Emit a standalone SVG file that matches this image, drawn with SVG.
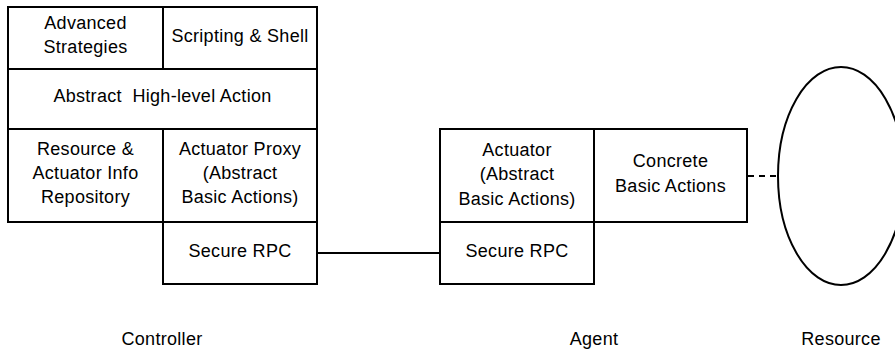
<svg xmlns="http://www.w3.org/2000/svg" width="895" height="352" viewBox="0 0 895 352">
<style>
.box{fill:#fff;stroke:#000;stroke-width:2}
text{font-family:"Liberation Sans",Arial,sans-serif;font-size:18px;letter-spacing:0.3px;fill:#000;text-anchor:middle;white-space:pre}
.conn{stroke:#000;stroke-width:2;fill:none}
</style>
<rect width="895" height="352" fill="#fff"/>
<g id="controller">
<g id="advanced"><rect class="box" x="8" y="7" width="155" height="62"/><text x="85.5" y="29">Advanced</text><text x="85.5" y="53">Strategies</text></g>
<g id="scripting"><rect class="box" x="163" y="7" width="154" height="62"/><text x="240" y="42">Scripting &amp; Shell</text></g>
<g id="abstract"><rect class="box" x="8" y="69" width="309" height="60"/><text x="162.5" y="102" xml:space="preserve">Abstract  High-level Action</text></g>
<g id="repository"><rect class="box" x="8" y="129" width="155" height="93"/><text x="85.5" y="155">Resource &amp;</text><text x="85.5" y="179">Actuator Info</text><text x="85.5" y="203">Repository</text></g>
<g id="proxy"><rect class="box" x="163" y="129" width="154" height="93"/><text x="240" y="155">Actuator Proxy</text><text x="240" y="179">(Abstract</text><text x="240" y="203">Basic Actions)</text></g>
<g id="rpc1"><rect class="box" x="163" y="222" width="154" height="62"/><text x="240" y="257">Secure RPC</text></g>
</g>
<g id="agent">
<g id="actuator"><rect class="box" x="440" y="129" width="154" height="93"/><text x="517" y="156">Actuator</text><text x="517" y="180">(Abstract</text><text x="517" y="205">Basic Actions)</text></g>
<g id="concrete"><rect class="box" x="594" y="129" width="153" height="93"/><text x="670.5" y="167">Concrete</text><text x="670.5" y="192">Basic Actions</text></g>
<g id="rpc2"><rect class="box" x="440" y="222" width="154" height="62"/><text x="517" y="257">Secure RPC</text></g>
</g>
<g id="resource"><ellipse cx="841" cy="176" rx="63" ry="109" fill="#fff" stroke="#000" stroke-width="2"/></g>
<g id="connectors">
<line class="conn" x1="748" y1="176" x2="778" y2="176" stroke-dasharray="6,5"/>
<line class="conn" x1="317" y1="253" x2="440" y2="253"/>
</g>
<g id="labels">
<text x="162" y="345">Controller</text>
<text x="594" y="345">Agent</text>
<text x="841" y="345">Resource</text>
</g>
</svg>
